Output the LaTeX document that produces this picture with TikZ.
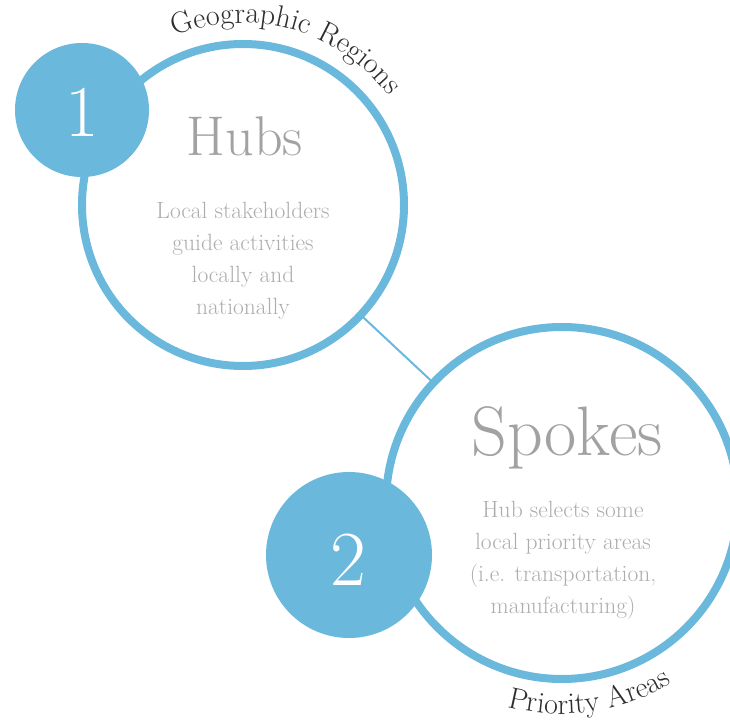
\documentclass[tikz,border=0pt]{standalone}
\usepackage{fontspec}
\usetikzlibrary{decorations.text}
\definecolor{hubblue}{HTML}{6AB8DC}
\definecolor{titlegray}{HTML}{A2A2A2}
\definecolor{bodygray}{HTML}{ADADAD}
\definecolor{darktext}{HTML}{2E2E2E}
\begin{document}
\begin{tikzpicture}[x=1pt,y=1pt,
  ring/.style={circle, draw=hubblue, line width=8pt, inner sep=0pt, outer sep=0pt},
  badge/.style={circle, fill=hubblue, inner sep=0pt, outer sep=0pt},
  numtext/.style={text=white, inner sep=0pt, anchor=base},
  titletext/.style={text=titlegray, inner sep=0pt, anchor=base},
  bodytext/.style={text=bodygray, inner sep=0pt, align=center, font=\fontsize{23.5}{32}\selectfont},
  link/.style={draw=hubblue, line width=2pt},
  curved/.style={decorate, decoration={text along path, text align=left, text color=darktext,
     text={|\fontsize{30}{32}\selectfont|#1}}}
]
\useasboundingbox (0,0) rectangle (730,720);
\clip (0,0) rectangle (730,720);
% rings
\node[ring, minimum size=322pt] (hub) at (243,515) {};
\node[ring, minimum size=352pt] (spoke) at (562,217) {};
\draw[link] (hub) -- (spoke);
% badges
\node[badge, minimum size=134pt] (b1) at (82,610) {};
\node[badge, minimum size=166pt] (b2) at (349,165) {};
\node[numtext, font=\fontsize{73}{73}\selectfont] (n1) at (82,583) {1};
\node[numtext, font=\fontsize{78}{78}\selectfont] (n2) at (348,135) {2};
% titles
\node[titletext, font=\fontsize{56}{56}\selectfont] (t1) at (245,564) {Hubs};
\node[titletext, font=\fontsize{70}{70}\selectfont] (t2) at (567,264) {Spokes};
% bodies
\node[bodytext] (d1) at (243,459) {Local stakeholders\\guide activities\\locally and\\nationally};
\node[bodytext] (d2) at (563,160) {Hub selects some\\local priority areas\\(i.e. transportation,\\manufacturing)};
% curved labels
\path[curved={Geographic Regions}] (243,515) ++(112:182pt) arc[start angle=112, end angle=20, radius=182pt];
\path[curved={Priority Areas}] (562,217) ++(-105:211pt) arc[start angle=-105, end angle=-40, radius=211pt];
\end{tikzpicture}
\end{document}
